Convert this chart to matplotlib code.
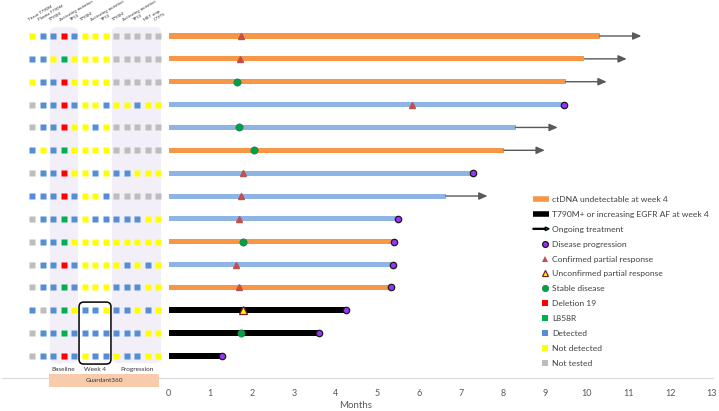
import matplotlib

matplotlib.use("Agg")
import matplotlib.pyplot as plt
import numpy as np
from matplotlib.lines import Line2D
from matplotlib.patches import FancyBboxPatch, FancyArrow, Rectangle
from matplotlib.legend_handler import HandlerPatch, HandlerBase

plt.rcParams["font.family"] = ["Lato", "DejaVu Sans"]

W, H = 719, 411

# ---- data ----
COL_LABELS = ["Tissue T790M", "Plasma T790M", "T790M", "Activating mutation", "TP53",
              "T790M", "Activating mutation", "TP53",
              "T790M", "Activating mutation", "TP53", "MET amp.", "C797S"]

# Y = not detected, B = detected, R = deletion 19, G = L858R, N = not tested
MATRIX = [
    "YBBRBYYYNNNNN",
    "BBYGYYYYNNNNN",
    "YBBRYYYYNNNNN",
    "NBBRBYYBYYBYY",
    "NBBRYYBYNNNNN",
    "BYBGYYYYNNNNN",
    "NBBRYYBYBBYYY",
    "BBBRBYYBNNNNN",
    "NBBGBYBBBBBYY",
    "NBBGYYYYYYYYY",
    "NBBRBYYYYBYBY",
    "NBBGBYYYBBBYY",
    "BNBGYBBYBBYBY",
    "NBBGBBBBBBBYY",
    "NBBRBYBBYBBYY",
]

bar_months = [10.31, 9.95, 9.50, 9.45, 8.30, 8.02, 7.28, 6.63, 5.48, 5.39, 5.36, 5.32, 4.24, 3.60, 1.28]
bar_group = ["undetect", "undetect", "undetect", "other", "other", "undetect", "other", "other",
             "other", "undetect", "other", "undetect", "t790", "t790", "t790"]
ongoing_end = [11.31, 10.96, 10.48, None, 9.31, 9.00, None, 7.63,
               None, None, None, None, None, None, None]
response_type = ["CPR", "CPR", "SD", "CPR", "SD", "SD", "CPR", "CPR",
                 "CPR", "SD", "CPR", "CPR", "UPR", "SD", None]
response_month = [1.73, 1.71, 1.64, 5.82, 1.68, 2.04, 1.78, 1.73,
                  1.68, 1.78, 1.61, 1.68, 1.78, 1.73, None]
month_ticks = list(range(0, 14))

SQ_COLORS = {"Y": "#FFFF00", "B": "#558ED5", "R": "#FF0000", "G": "#00B050", "N": "#BDBDBD"}
BAR_COLORS = {"undetect": "#F79646", "other": "#8DB4E2", "t790": "#000000"}
BAR_H = {"undetect": 0.22, "other": 0.22, "t790": 0.27}

# ---- layout in pixels ----
ROW0, ROW_STEP = 36.0, 22.86
AX_TOP, AX_BOT = 20.0, 378.0
y_top = (AX_TOP - ROW0) / ROW_STEP
y_bot = (AX_BOT - ROW0) / ROW_STEP

fig = plt.figure(figsize=(W / 100, H / 100), dpi=100)

# timeline axes
X0, X13 = 168.5, 712.0
ax = fig.add_axes([X0 / W, 1 - AX_BOT / H, (X13 - X0) / W, (AX_BOT - AX_TOP) / H])
ax.set_xlim(0, 13)
ax.set_ylim(y_bot, y_top)
for s in ax.spines.values():
    s.set_visible(False)
ax.set_yticks([])
ax.set_xticks(month_ticks)
ax.tick_params(axis="x", length=0, pad=8, labelsize=6.5, labelcolor="#595959")

rows = np.arange(len(bar_months))
for i in rows:
    g = bar_group[i]
    ax.barh(i, bar_months[i], height=BAR_H[g], color=BAR_COLORS[g], zorder=2)
    if ongoing_end[i] is not None:
        ax.annotate("", xy=(ongoing_end[i], i), xytext=(bar_months[i], i),
                    arrowprops=dict(arrowstyle="-|>,head_length=0.5,head_width=0.22",
                                    color="#595959", lw=1.0, shrinkA=0, shrinkB=0),
                    zorder=2)
    else:
        ax.plot(bar_months[i], i, "o", ms=4.6, mfc="#9933FF", mec="#1a1a1a", mew=0.9, zorder=4)
    r = response_type[i]
    if r == "CPR":
        ax.plot(response_month[i], i, "^", ms=4.6, color="#C0504D", mec="#C0504D", zorder=4)
    elif r == "UPR":
        ax.plot(response_month[i], i, "^", ms=5.2, mfc="#FFFF00", mec="#7F2020", mew=0.9, zorder=4)
    elif r == "SD":
        ax.plot(response_month[i], i, "o", ms=5.2, mfc="#00A04A", mec="#1E7D3A", mew=0.5, zorder=4)

# x axis line across whole chart, behind everything
fig.add_artist(Line2D([2 / W, 713 / W], [1 - AX_BOT / H] * 2, color="#D9D9D9", lw=0.8, zorder=-1))
fig.text(356 / W, 1 - 405 / H, "Months", ha="center", va="center", fontsize=7, color="#595959")

# mutation matrix axes
C0, CSTEP = 32.0, 10.5
mx = fig.add_axes([0, 1 - AX_BOT / H, X0 / W, (AX_BOT - AX_TOP) / H])
mx.set_xlim(-C0 / CSTEP, (X0 - C0) / CSTEP)
mx.set_ylim(y_bot, y_top)
mx.axis("off")

asp = (5 / ROW_STEP) / (5 / CSTEP)
for c_lo, c_hi in [(1.71, 4.38), (7.62, 12.29)]:
    mx.add_patch(FancyBboxPatch((c_lo, -0.39), c_hi - c_lo, 14.69,
                                boxstyle="round,pad=0,rounding_size=0.5", mutation_aspect=asp,
                                fc="#F3EFF9", ec="none", zorder=0))
mx.add_patch(FancyBboxPatch((4.48, 11.64), 3.04, 2.71,
                            boxstyle="round,pad=0,rounding_size=0.45", mutation_aspect=asp,
                            fc="none", ec="black", lw=1.1, zorder=3, clip_on=False))

for i, row in enumerate(MATRIX):
    for j, code in enumerate(row):
        mx.plot(j, i, "s", ms=3.7, color=SQ_COLORS[code], mec="none", zorder=2)

for j, lab in enumerate(COL_LABELS):
    mx.text(j - 0.25, -0.6, lab, rotation=30, rotation_mode="anchor", ha="left", va="bottom",
            fontsize=3.2, color="#333333", clip_on=False)

for xc, lab in [(3, "Baseline"), (6, "Week 4"), (10, "Progression")]:
    mx.text(xc, 14.6, lab, ha="center", va="center", fontsize=4.6, color="#333333", clip_on=False)

gx0, gx1 = (49 - C0) / CSTEP, (159 - C0) / CSTEP
gy0, gy1 = (374 - ROW0) / ROW_STEP, (387 - ROW0) / ROW_STEP
mx.add_patch(Rectangle((gx0, gy0), gx1 - gx0, gy1 - gy0, fc="#F8CBAD", ec="none",
                       clip_on=False, zorder=3))
mx.text((gx0 + gx1) / 2, (gy0 + gy1) / 2, "Guardant360", ha="center", va="center",
        fontsize=4.6, color="#333333", clip_on=False, zorder=4)


# legend
def make_arrow(legend, orig_handle, xdescent, ydescent, width, height, fontsize):
    return FancyArrow(-xdescent, height / 2 - ydescent, width, 0, width=0.6,
                      head_width=height * 0.6, head_length=height * 0.65,
                      length_includes_head=True, color="black")


class RightMarker(HandlerBase):
    # marker drawn close to the label, as in the source chart
    def create_artists(self, legend, orig, xdescent, ydescent, width, height, fontsize, trans):
        ln = Line2D([width - xdescent - 2.6], [height / 2 - ydescent], ls="none",
                    marker=orig.get_marker(), ms=orig.get_markersize(),
                    mfc=orig.get_markerfacecolor(), mec=orig.get_markeredgecolor(),
                    mew=orig.get_markeredgewidth(), transform=trans)
        return [ln]


def mk(marker, ms, fc, ec, mew=0.0):
    return Line2D([], [], ls="none", marker=marker, ms=ms, mfc=fc, mec=ec, mew=mew)


arrow_handle = FancyArrow(0, 0, 1, 0)
bar_u = Line2D([], [], color=BAR_COLORS["undetect"], lw=4, solid_capstyle="butt")
bar_t = Line2D([], [], color="black", lw=4, solid_capstyle="butt")
marker_handles = [
    mk("o", 4.2, "#9933FF", "#1a1a1a", 0.9),
    mk("^", 4.2, "#C0504D", "#C0504D"),
    mk("^", 4.6, "#FFFF00", "#7F2020", 0.9),
    mk("o", 4.6, "#00A04A", "#1E7D3A", 0.5),
    mk("s", 4, SQ_COLORS["R"], SQ_COLORS["R"]),
    mk("s", 4, SQ_COLORS["G"], SQ_COLORS["G"]),
    mk("s", 4, SQ_COLORS["B"], SQ_COLORS["B"]),
    mk("s", 4, SQ_COLORS["Y"], SQ_COLORS["Y"]),
    mk("s", 4, SQ_COLORS["N"], SQ_COLORS["N"]),
]
handles = [bar_u, bar_t, arrow_handle] + marker_handles
labels = ["ctDNA undetectable at week 4", "T790M+ or increasing EGFR AF at week 4",
          "Ongoing treatment", "Disease progression", "Confirmed partial response",
          "Unconfirmed partial response", "Stable disease", "Deletion 19", "L858R",
          "Detected", "Not detected", "Not tested"]
hmap = {FancyArrow: HandlerPatch(patch_func=make_arrow)}
for h in marker_handles:
    hmap[h] = RightMarker()
leg = fig.legend(handles, labels, loc="upper left", bbox_to_anchor=(533 / W, 1 - 196 / H),
                 frameon=False, fontsize=6.1, handlelength=1.9, handletextpad=0.36,
                 labelspacing=0.93, borderpad=0, borderaxespad=0, handler_map=hmap)
for t in leg.get_texts():
    t.set_color("#404040")

fig.savefig("out.png", dpi=100)
